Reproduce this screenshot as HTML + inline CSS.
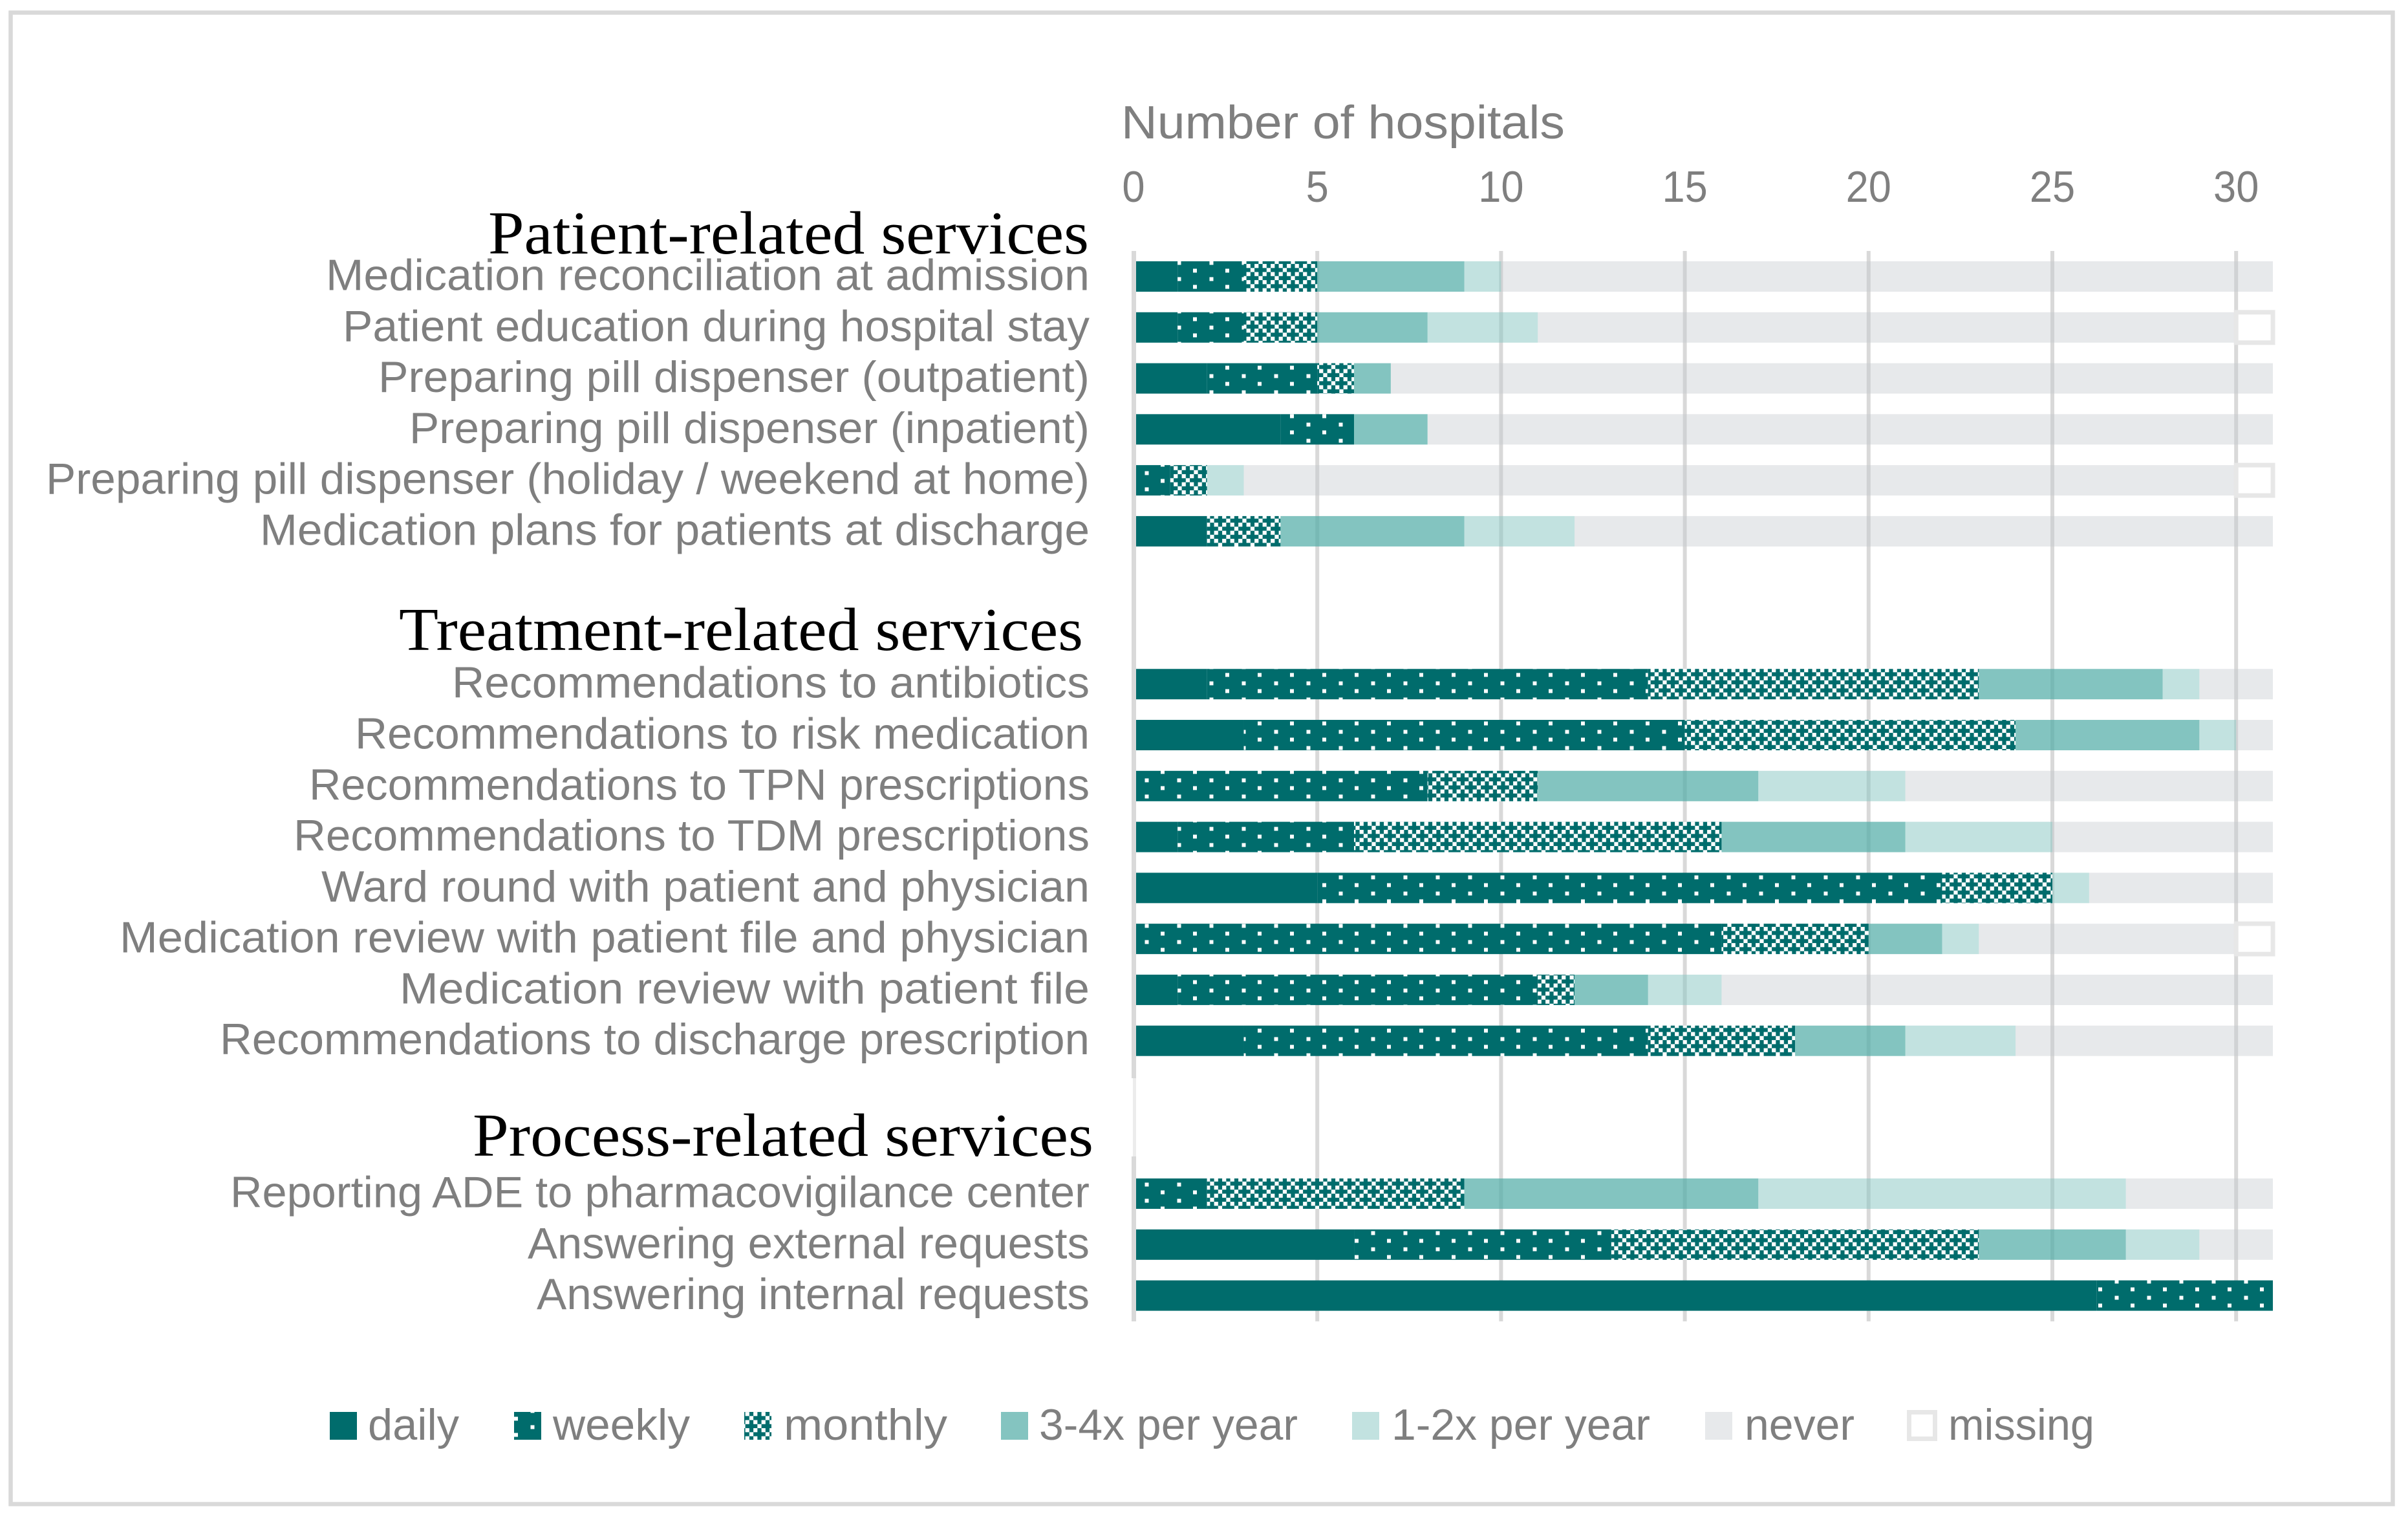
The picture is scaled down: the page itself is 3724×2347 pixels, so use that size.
<!DOCTYPE html>
<html lang="en">
<head>
<meta charset="utf-8">
<title>Number of hospitals by service frequency</title>
<style>
html,body{margin:0;padding:0;background:#fff;width:3724px;height:2347px;overflow:hidden}
svg{display:block}
text{font-family:"Liberation Sans",sans-serif;fill:#7f7f7f}
.serif{font-family:"Liberation Serif",serif;fill:#000;font-size:94px}
.legend{font-size:68px}
.cat{font-size:68px;text-anchor:end}
</style>
</head>
<body>
<svg id="chart" xmlns="http://www.w3.org/2000/svg" width="3724" height="2347" viewBox="0 0 3724 2347">
  <defs>
    <pattern id="weekly-pattern" patternUnits="userSpaceOnUse" width="50" height="25">
      <rect width="50" height="25" fill="#006c6c"/>
      <rect x="20.5" y="3.5" width="6" height="6" fill="#fff"/>
      <rect x="45" y="15.5" width="6" height="6" fill="#fff"/>
      <rect x="-5" y="15.5" width="6" height="6" fill="#fff"/>
    </pattern>
    <pattern id="monthly-pattern" patternUnits="userSpaceOnUse" width="25" height="25" patternTransform="translate(2.6,-4.4)">
      <rect width="25" height="25" fill="#006c6c"/>
      <rect x="0" y="0" width="6.25" height="6.25" fill="#fff"/>
      <rect x="12.5" y="0" width="6.25" height="6.25" fill="#fff"/>
      <rect x="18.75" y="6.25" width="6.25" height="6.25" fill="#fff"/>
      <rect x="0" y="12.5" width="6.25" height="6.25" fill="#fff"/>
      <rect x="12.5" y="12.5" width="6.25" height="6.25" fill="#fff"/>
      <rect x="6.25" y="18.75" width="6.25" height="6.25" fill="#fff"/>
    </pattern>
  </defs>

  <rect x="0" y="0" width="3724" height="2347" fill="#fff"/>
  <rect x="16.5" y="19.5" width="3684" height="2306" fill="none" stroke="#d9d9d9" stroke-width="6.5"/>

  <g id="grid"></g>
  <g id="bars"></g>
  <g id="axis"></g>

  <g id="labels">
    <text class="cat" x="1685" y="448.5" textLength="1181" lengthAdjust="spacingAndGlyphs">Medication reconciliation at admission</text>
    <text class="cat" x="1685" y="527.3" textLength="1155" lengthAdjust="spacingAndGlyphs">Patient education during hospital stay</text>
    <text class="cat" x="1685" y="606.1" textLength="1100" lengthAdjust="spacingAndGlyphs">Preparing pill dispenser (outpatient)</text>
    <text class="cat" x="1685" y="684.8" textLength="1052" lengthAdjust="spacingAndGlyphs">Preparing pill dispenser (inpatient)</text>
    <text class="cat" x="1685" y="763.6" textLength="1614" lengthAdjust="spacingAndGlyphs">Preparing pill dispenser (holiday / weekend at home)</text>
    <text class="cat" x="1685" y="842.4" textLength="1283" lengthAdjust="spacingAndGlyphs">Medication plans for patients at discharge</text>
    <text class="cat" x="1685" y="1078.7" textLength="986" lengthAdjust="spacingAndGlyphs">Recommendations to antibiotics</text>
    <text class="cat" x="1685" y="1157.5" textLength="1136" lengthAdjust="spacingAndGlyphs">Recommendations to risk medication</text>
    <text class="cat" x="1685" y="1236.3" textLength="1207" lengthAdjust="spacingAndGlyphs">Recommendations to TPN prescriptions</text>
    <text class="cat" x="1685" y="1315.1" textLength="1231" lengthAdjust="spacingAndGlyphs">Recommendations to TDM prescriptions</text>
    <text class="cat" x="1685" y="1393.9" textLength="1188" lengthAdjust="spacingAndGlyphs">Ward round with patient and physician</text>
    <text class="cat" x="1685" y="1472.6" textLength="1500" lengthAdjust="spacingAndGlyphs">Medication review with patient file and physician</text>
    <text class="cat" x="1685" y="1551.4" textLength="1067" lengthAdjust="spacingAndGlyphs">Medication review with patient file</text>
    <text class="cat" x="1685" y="1630.2" textLength="1345" lengthAdjust="spacingAndGlyphs">Recommendations to discharge prescription</text>
    <text class="cat" x="1685" y="1866.5" textLength="1329" lengthAdjust="spacingAndGlyphs">Reporting ADE to pharmacovigilance center</text>
    <text class="cat" x="1685" y="1945.3" textLength="869" lengthAdjust="spacingAndGlyphs">Answering external requests</text>
    <text class="cat" x="1685" y="2024.1" textLength="855" lengthAdjust="spacingAndGlyphs">Answering internal requests</text>
  </g>

  <text x="1734" y="214" font-size="72" textLength="686" lengthAdjust="spacingAndGlyphs">Number of hospitals</text>

  <text class="serif" x="755" y="392" textLength="929" lengthAdjust="spacingAndGlyphs">Patient-related services</text>
  <text class="serif" x="617" y="1005" textLength="1058" lengthAdjust="spacingAndGlyphs">Treatment-related services</text>
  <text class="serif" x="731" y="1787" textLength="960" lengthAdjust="spacingAndGlyphs">Process-related services</text>

  <g>
    <g>
      <rect x="510" y="2183" width="42" height="43" fill="#006c6c"/>
      <text class="legend" x="569" y="2226" textLength="141" lengthAdjust="spacingAndGlyphs">daily</text>
    </g>
    <g>
      <rect x="795" y="2183" width="42" height="43" fill="url(#weekly-pattern)"/>
      <text class="legend" x="855" y="2226" textLength="212" lengthAdjust="spacingAndGlyphs">weekly</text>
    </g>
    <g>
      <rect x="1151" y="2183" width="42" height="43" fill="url(#monthly-pattern)"/>
      <text class="legend" x="1212" y="2226" textLength="253" lengthAdjust="spacingAndGlyphs">monthly</text>
    </g>
    <g>
      <rect x="1548" y="2183" width="42" height="43" fill="#84c4c0"/>
      <text class="legend" x="1607" y="2226" textLength="400" lengthAdjust="spacingAndGlyphs">3-4x per year</text>
    </g>
    <g>
      <rect x="2091" y="2183" width="42" height="43" fill="#c2e2e0"/>
      <text class="legend" x="2152" y="2226" textLength="400" lengthAdjust="spacingAndGlyphs">1-2x per year</text>
    </g>
    <g>
      <rect x="2637" y="2183" width="42" height="43" fill="#e7e9eb"/>
      <text class="legend" x="2698" y="2226" textLength="170" lengthAdjust="spacingAndGlyphs">never</text>
    </g>
    <g>
      <rect x="2952.5" y="2183.5" width="40" height="41" fill="#fff" stroke="#e7e7e7" stroke-width="7"/>
      <text class="legend" x="3013" y="2226" textLength="226" lengthAdjust="spacingAndGlyphs">missing</text>
    </g>
  </g>
</svg>

<script>
const categories = [
  "Medication reconciliation at admission",
  "Patient education during hospital stay",
  "Preparing pill dispenser (outpatient)",
  "Preparing pill dispenser (inpatient)",
  "Preparing pill dispenser (holiday / weekend at home)",
  "Medication plans for patients at discharge",
  "",
  "",
  "Recommendations to antibiotics",
  "Recommendations to risk medication",
  "Recommendations to TPN prescriptions",
  "Recommendations to TDM prescriptions",
  "Ward round with patient and physician",
  "Medication review with patient file and physician",
  "Medication review with patient file",
  "Recommendations to discharge prescription",
  "",
  "",
  "Reporting ADE to pharmacovigilance center",
  "Answering external requests",
  "Answering internal requests"
];
const seriesNames = ["daily", "weekly", "monthly", "3-4x-per-year", "1-2x-per-year", "never", "missing"];
const daily    = [1.2, 1.2, 2, 4, 0, 2, 0, 0, 2, 3, 0, 1.2, 5, 0, 1.2, 3, 0, 0, 0, 6, 26.2];
const weekly   = [1.8, 1.8, 3, 2, 1, 0, 0, 0, 12, 12, 8, 4.8, 17, 16, 9.8, 11, 0, 0, 2, 7, 4.8];
const monthly  = [2, 2, 1, 0, 1, 2, 0, 0, 9, 9, 3, 10, 3, 4, 1, 4, 0, 0, 7, 10, 0];
const perYear34 = [4, 3, 1, 2, 0, 5, 0, 0, 5, 5, 6, 5, 0, 2, 2, 3, 0, 0, 8, 4, 0];
const perYear12 = [1, 3, 0, 0, 1, 3, 0, 0, 1, 1, 4, 4, 1, 1, 2, 3, 0, 0, 10, 2, 0];
const never    = [21, 19, 24, 23, 27, 19, 0, 0, 2, 1, 10, 6, 5, 7, 15, 7, 0, 0, 4, 2, 0];
const missing  = [0, 1, 0, 0, 1, 0, 0, 0, 0, 0, 0, 0, 0, 1, 0, 0, 0, 0, 0, 0, 0];
const tickValues = [0, 5, 10, 15, 20, 25, 30];

const SVG_NS = "http://www.w3.org/2000/svg";
const xScale = v => 1753 + 56.84 * v;
const yScale = i => 427.5 + 78.78 * i;
const BAR_H = 47;
const GRID_TOP = 388;
const GRID_BOTTOM = 2043;
const TICK_STRETCH = 0.93;

const seriesValues = [daily, weekly, monthly, perYear34, perYear12, never, missing];
const seriesStyles = [
  {fill: "#006c6c", opacity: 1},
  {fill: "url(#weekly-pattern)", opacity: 1},
  {fill: "url(#monthly-pattern)", opacity: 1},
  {fill: "rgb(79,171,165)", opacity: 0.7},
  {fill: "rgb(133,197,193)", opacity: 0.5},
  {fill: "rgb(195,200,205)", opacity: 0.4},
  {fill: "#fff", opacity: 1, stroke: "#e7e7e7", strokeWidth: 7}
];

function make(tag, attrs, parent) {
  const el = document.createElementNS(SVG_NS, tag);
  for (const k in attrs) el.setAttribute(k, attrs[k]);
  parent.appendChild(el);
  return el;
}

const gridG = document.getElementById("grid");
const barsG = document.getElementById("bars");
const axisG = document.getElementById("axis");

tickValues.forEach(v => {
  if (v === 0) return;
  const line = make("rect", {x: xScale(v) - 3, y: GRID_TOP, width: 6, height: GRID_BOTTOM - GRID_TOP, fill: "#d9d9d9"}, gridG);
  
  
});

categories.forEach((name, i) => {
  let cum = 0;
  seriesValues.forEach((values, s) => {
    const v = values[i];
    if (v > 0) {
      const st = seriesStyles[s];
      const rect = make("rect", {
        x: xScale(cum),
        y: yScale(i) - BAR_H / 2,
        width: xScale(cum + v) - xScale(cum),
        height: BAR_H,
        fill: st.fill,
        "fill-opacity": st.opacity
      }, barsG);
      if (st.stroke) {
        rect.setAttribute("stroke", st.stroke);
        rect.setAttribute("stroke-width", st.strokeWidth);
      }
      
      
    }
    cum += v;
  });
});

const zeroLine = make("rect", {x: xScale(0) - 3, y: GRID_TOP, width: 7, height: GRID_BOTTOM - GRID_TOP, fill: "#d9d9d9"}, axisG);



const axisPatch = make("rect", {x: xScale(0) - 3, y: 1667, width: 7, height: 121, fill: "#fff"}, axisG);


const axisPatchLine = make("rect", {x: xScale(0) - 1, y: 1667, width: 5, height: 121, fill: "#ececec"}, axisG);



tickValues.forEach(v => {
  const t = make("text", {x: xScale(v), y: 312, "font-size": 68, "text-anchor": "middle"}, axisG);
  t.textContent = v;
  
  
  t.setAttribute("textLength", (t.getComputedTextLength() * TICK_STRETCH).toFixed(1));
  t.setAttribute("lengthAdjust", "spacingAndGlyphs");
});
</script>
</body>
</html>
